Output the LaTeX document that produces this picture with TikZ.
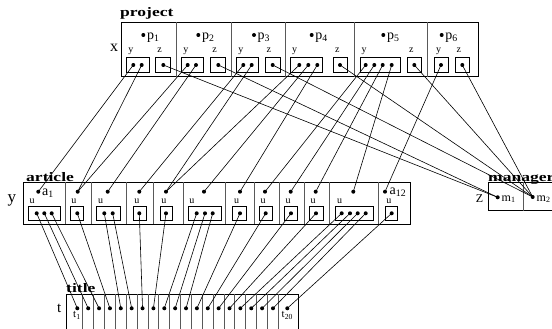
\documentclass[tikz,border=0pt]{standalone}
\usepackage{fontspec}
\setmainfont{Liberation Serif}
\newcommand{\hdrtext}[1]{\scalebox{1.35}[1]{\fontsize{13}{13}\selectfont\bfseries #1}}
\begin{document}
\begin{tikzpicture}[x=1pt,y=-1pt,
 dot/.style={circle,fill=black,inner sep=0pt,minimum size=4pt},
 outerbox/.style={draw=black,line width=1pt},
 divider/.style={draw=black!65,line width=0.8pt},
 subbox/.style={draw=black,line width=0.7pt},
 conn/.style={draw=black,line width=0.6pt},
 hdrlab/.style={anchor=base west,inner sep=0pt},
 rowlab/.style={anchor=base,inner sep=0pt},
 small/.style={anchor=base west,inner sep=0pt,font=\fontsize{10}{10}\selectfont},
 keylab/.style={anchor=base west,inner sep=0pt,font=\fontsize{14}{14}\selectfont},
 mlab/.style={anchor=base west,inner sep=0pt,font=\fontsize{12}{12}\selectfont},
 tlab/.style={anchor=base west,inner sep=0pt,font=\fontsize{11}{11}\selectfont},
]
\useasboundingbox (0,0) rectangle (552,329);
\clip (0,0) rectangle (552,329);

% ---------------- project ----------------
\node[hdrlab] (projlab) at (120,17) {\hdrtext{project}};
\node[rowlab,font=\fontsize{16}{16}\selectfont] (xlab) at (114,52) {x};
\draw[outerbox] (121,22.5) rectangle (478,77);
\foreach \xx in {176,231,285,354,427} \draw[divider] (\xx,22.5) -- (\xx,77);
\foreach \lx/\rx/\n in {126.7/149/1, 181.7/203.3/2, 236.7/258.3/3, 290.5/322/4, 360/400/5, 434.3/448.3/6} {
  \draw[subbox] (\lx,57.5) rectangle (\rx,72);
  \node[small] (ylab\n) at ({\lx+1.5},53) {y};
}
\foreach \lx/\rx/\n in {155.7/170/1, 210.7/225/2, 265/280/3, 333.3/347.3/4, 407.3/421/5, 455/469.3/6} {
  \draw[subbox] (\lx,57.5) rectangle (\rx,72);
  \node[small] (zlab\n) at ({\lx+1.5},53) {z};
}
\foreach \xx [count=\i] in {143.3,198.3,254,311.7,383.3,441.7} {
  \node[dot] (pp\i) at (\xx,35) {};
  \node[keylab] (pl\i) at ({\xx+3.5},39.5) {p\textsubscript{\i}};
}
\foreach \xx [count=\i] in {133.3,141.7,187.7,196,243.3,251.7,299.3,308.3,317.3,365.7,374.3,382.7,391.7,441}
  \node[dot] (py\i) at (\xx,65) {};
\foreach \xx [count=\i] in {163.3,218.3,272.7,340,414.3,462.3}
  \node[dot] (pz\i) at (\xx,65) {};

% ---------------- article ----------------
\node[hdrlab] (artlab) at (26,181) {\hdrtext{article}};
\node[rowlab,font=\fontsize{17}{17}\selectfont] (ylabel) at (12,202) {y};
\draw[outerbox] (23.3,182.3) rectangle (410,224.3);
\foreach \xx in {65,91,126.7,153.3,183.3,225.7,254,279,304,329.3,378.3} \draw[divider] (\xx,182.3) -- (\xx,224.3);
\foreach \lx/\rx/\n in {28.3/60/1, 70/83.3/2, 96.7/120/3, 133/146.7/4, 160/172.7/5, 188/221.7/6, 232.7/246.7/7, 259.3/272.7/8, 284.3/297.7/9, 309.3/323.3/10, 335.7/373.3/11, 385/397.3/12} {
  \draw[subbox] (\lx,206) rectangle (\rx,220);
  \node[small] (ulab\n) at ({\lx+1.2},203.5) {u};
}
\foreach \xx [count=\i] in {38.3,77.7,107.7,139.3,166,204,240,265,290.7,315.7,353.3,385}
  \node[dot] (at\i) at (\xx,191.7) {};
\node[keylab] (alab1) at (42,195.5) {a\textsubscript{1}};
\node[keylab] (alab12) at (389.5,194.5) {a\textsubscript{12}};
\foreach \xx [count=\i] in {36.7,44.3,51.7,77.3,104.3,112.7,139.3,166,196.7,205,212.7,240,265.7,291,316,341.7,350,357.7,365.7,391.7}
  \node[dot] (au\i) at (\xx,213.3) {};

% ---------------- manager ----------------
\node[hdrlab] (manlab) at (488,181.5) {\hdrtext{manager}};
\node[rowlab,font=\fontsize{12}{12}\selectfont] (zlabel) at (479.5,202) {Z};
\draw[outerbox] (488.3,182.3) rectangle (560,210.7);
\draw[divider] (523.3,182.3) -- (523.3,210.7);
\node[dot] (m1) at (497.7,197.3) {};
\node[dot] (m2) at (532.7,197) {};
\node[mlab] (mlab1) at (501.5,201) {m\textsubscript{1}};
\node[mlab] (mlab2) at (536.5,201) {m\textsubscript{2}};

% ---------------- title ----------------
\node[hdrlab] (titlab) at (66,292) {\hdrtext{title}};
\node[rowlab,font=\fontsize{15}{15}\selectfont] (tlabel) at (59.3,312) {t};
\draw[outerbox] (66.7,294) rectangle (298.3,345);
\foreach \k in {0,...,18} \draw[divider] ({82.7+\k*10.87},294) -- ({82.7+\k*10.87},345);
\node[dot] (t1) at (77.3,308.3) {};
\foreach \k in {2,...,19} \node[dot] (t\k) at ({88.2+(\k-2)*10.87},308.3) {};
\node[dot] (t20) at (287.3,308.3) {};
\node[tlab] (tl1) at (73,317.5) {t\textsubscript{1}};
\node[tlab] (tl20) at (281.5,317.5) {t\textsubscript{20}};

% ---------------- connectors ----------------
\foreach \a/\b in {1/1,2/2,3/2,4/3,5/4,6/5,7/5,8/6,9/7,10/8,11/9,12/10,13/11,14/12}
  \draw[conn] (py\a.center) -- (at\b.center);
\foreach \a/\b in {1/1,2/1,3/2,4/2,5/2,6/2}
  \draw[conn] (pz\a.center) -- (m\b.center);
\foreach \i in {1,...,20}
  \draw[conn] (au\i.center) -- (t\i.center);
\end{tikzpicture}
\end{document}
